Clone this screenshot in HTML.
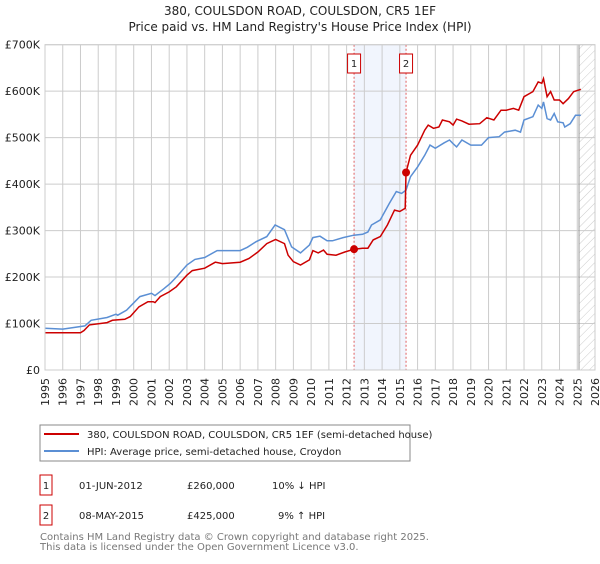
<!DOCTYPE html>
<html><head><meta charset="utf-8"><style>
body{margin:0;background:#fff;font-family:"DejaVu Sans","Liberation Sans",sans-serif}
svg text{font-family:"DejaVu Sans","Liberation Sans",sans-serif}
</style></head><body>
<svg id="chart" width="600" height="560" viewBox="0 0 600 560" xmlns="http://www.w3.org/2000/svg">
<defs><pattern id="hatch" width="6" height="6" patternUnits="userSpaceOnUse" patternTransform="rotate(45)"><line x1="0" y1="0" x2="0" y2="6" stroke="#ccc" stroke-width="1"/></pattern></defs>
<text x="300" y="15" text-anchor="middle" font-size="12" fill="#222">380, COULSDON ROAD, COULSDON, CR5 1EF</text>
<text x="300" y="31" text-anchor="middle" font-size="12" fill="#222">Price paid vs. HM Land Registry's House Price Index (HPI)</text>
<g id="plot"></g>
<g>
<rect x="40" y="425" width="370" height="36" fill="#fff" stroke="#888"/>
<line x1="44" y1="434" x2="79" y2="434" stroke="#cc0000" stroke-width="2"/>
<text x="87" y="438" font-size="10" fill="#222">380, COULSDON ROAD, COULSDON, CR5 1EF (semi-detached house)</text>
<line x1="44" y1="451" x2="79" y2="451" stroke="#5b8fd4" stroke-width="2"/>
<text x="87" y="455" font-size="10" fill="#222">HPI: Average price, semi-detached house, Croydon</text>
</g>
<g>
<rect x="40" y="475" width="12" height="20" fill="#fff" stroke="#cc0000"/>
<text x="46" y="489" text-anchor="middle" font-size="10" fill="#222">1</text>
<text x="79" y="489" font-size="10" fill="#222">01-JUN-2012</text>
<text x="187" y="489" font-size="10" fill="#222">£260,000</text>
<text x="272" y="489" font-size="10" fill="#222">10% ↓ HPI</text>
<rect x="40" y="505" width="12" height="20" fill="#fff" stroke="#cc0000"/>
<text x="46" y="519" text-anchor="middle" font-size="10" fill="#222">2</text>
<text x="79" y="519" font-size="10" fill="#222">08-MAY-2015</text>
<text x="187" y="519" font-size="10" fill="#222">£425,000</text>
<text x="278" y="519" font-size="10" fill="#222">9% ↑ HPI</text>
</g>
<text x="40" y="540" font-size="10" fill="#777">Contains HM Land Registry data © Crown copyright and database right 2025.</text>
<text x="40" y="550" font-size="10" fill="#777">This data is licensed under the Open Government Licence v3.0.</text>
</svg>
<script>
const yTicks=[0,100,200,300,400,500,600,700];
const yTickLabels=["£0","£100K","£200K","£300K","£400K","£500K","£600K","£700K"];
const xYears=[1995,1996,1997,1998,1999,2000,2001,2002,2003,2004,2005,2006,2007,2008,2009,2010,2011,2012,2013,2014,2015,2016,2017,2018,2019,2020,2021,2022,2023,2024,2025,2026];
const saleDates=[2012.42,2015.35];
const salePrices=[260,425];
const saleLabels=["1","2"];
const dataEnd=2025.1;
const hpiYears=[1995,1996,1997.25,1997.6,1998.5,1999,1999.1,1999.6,2000.35,2001,2001.2,2001.7,2002.05,2002.4,2003,2003.45,2004,2004.7,2006,2006.4,2006.9,2007.5,2007.97,2008.5,2008.9,2009.4,2009.9,2010.1,2010.5,2010.9,2011.2,2011.8,2012.4,2012.9,2013.2,2013.4,2013.9,2014.4,2014.8,2015.1,2015.35,2015.6,2016,2016.4,2016.7,2017,2017.5,2017.8,2018,2018.2,2018.5,2019,2019.6,2020,2020.6,2020.9,2021.5,2021.8,2022,2022.5,2022.8,2023,2023.1,2023.3,2023.5,2023.7,2023.9,2024.2,2024.3,2024.6,2024.9,2025.2];
const hpiValues=[90,88,95,107,113,120,118,129,158,165,160,175,186,200,226,238,242,257,257,264,276,287,312,302,265,252,269,285,288,278,278,285,290,292,297,312,323,358,384,380,387,416,437,462,484,477,489,495,487,480,495,484,484,500,502,512,516,512,538,545,570,563,577,541,538,552,534,532,523,530,548,548];
const priceYears=[1995,1997,1997.2,1997.5,1998.5,1998.8,1999.5,1999.8,2000.3,2000.8,2001.1,2001.2,2001.5,2002,2002.4,2003,2003.3,2004,2004.6,2005,2006,2006.5,2007,2007.5,2008,2008.5,2008.7,2009,2009.4,2009.9,2010.1,2010.4,2010.7,2010.9,2011.4,2011.9,2012.42,2012.9,2013.2,2013.5,2013.9,2014.3,2014.7,2015,2015.3,2015.35,2015.6,2016,2016.4,2016.6,2016.9,2017.2,2017.4,2017.8,2018,2018.2,2018.5,2018.9,2019.5,2019.9,2020.3,2020.7,2021,2021.4,2021.7,2022,2022.5,2022.8,2023,2023.1,2023.3,2023.5,2023.7,2024,2024.2,2024.5,2024.8,2025.2];
const priceValues=[80,80,85,97,102,107,109,115,136,147,147,145,158,168,179,204,214,219,232,229,232,240,254,272,281,272,247,233,226,237,257,252,258,249,247,254,260,262,262,280,287,312,344,341,348,425,462,484,516,527,520,523,538,534,527,540,536,529,530,543,538,559,559,563,559,588,599,620,617,627,588,599,581,581,573,584,599,604];

const NS="http://www.w3.org/2000/svg";
const L=45,R=595,T=44.7,B=370,y0=1995,y1=2026,vmax=700;
const sx=y=>L+(y-y0)/(y1-y0)*(R-L);
const sy=v=>B-v/vmax*(B-T);
const plot=document.getElementById('plot');
function mk(tag,attrs,parent){const e=document.createElementNS(NS,tag);for(const k in attrs)e.setAttribute(k,attrs[k]);(parent||plot).appendChild(e);return e;}

const shade=mk('rect',{x:sx(saleDates[0]),y:T,width:sx(saleDates[1])-sx(saleDates[0]),height:B-T,fill:'#eef3fc',opacity:0.8});


const hatch=mk('rect',{x:sx(dataEnd),y:T,width:R-sx(dataEnd),height:B-T,fill:'url(#hatch)'});



xYears.forEach(yr=>{
 const g=mk('line',{x1:sx(yr),x2:sx(yr),y1:T,y2:B,stroke:'#ccc','stroke-width':1});
 
 
 const tx=sx(yr)+4, ty=378;
 const t=mk('text',{x:tx,y:ty,'font-size':11,fill:'#222','text-anchor':'end',transform:'rotate(-90 '+tx.toFixed(1)+' '+ty+')'});
 t.textContent=yr;
 
 
});
yTicks.forEach((v,i)=>{
 const g=mk('line',{x1:L,x2:R,y1:sy(v),y2:sy(v),stroke:'#ccc','stroke-width':1});
 
 
 const t=mk('text',{x:40,y:sy(v)+4,'font-size':11,fill:'#222','text-anchor':'end'});
 t.textContent=yTickLabels[i];
 
 
});
const endLine=mk('line',{x1:sx(dataEnd),x2:sx(dataEnd),y1:T,y2:B,stroke:'#999','stroke-width':1});



saleDates.forEach((d,i)=>{
 const l=mk('line',{x1:sx(d),x2:sx(d),y1:T,y2:B,stroke:'#e06060','stroke-width':1,'stroke-dasharray':'2,2'});
 
 
 const b=mk('rect',{x:sx(d)-6.5,y:54,width:13,height:19,fill:'#fff',stroke:'#cc0000'});
 
 
 const t=mk('text',{x:sx(d),y:67,'font-size':10,fill:'#222','text-anchor':'middle'});
 t.textContent=saleLabels[i];
 
 
});

function path(xs,vs){return xs.map((x,i)=>(i?'L':'M')+sx(x).toFixed(1)+','+sy(vs[i]).toFixed(1)).join(' ');}
const hpi=mk('path',{d:path(hpiYears,hpiValues),fill:'none',stroke:'#5b8fd4','stroke-width':1.5});


const pr=mk('path',{d:path(priceYears,priceValues),fill:'none',stroke:'#cc0000','stroke-width':1.5});


saleDates.forEach((d,i)=>{
 const c=mk('circle',{cx:sx(d),cy:sy(salePrices[i]),r:4,fill:'#cc0000'});
 
 
});
const frame=mk('rect',{x:L,y:T,width:R-L,height:B-T,fill:'none',stroke:'#ccc'});


</script>
</body></html>
